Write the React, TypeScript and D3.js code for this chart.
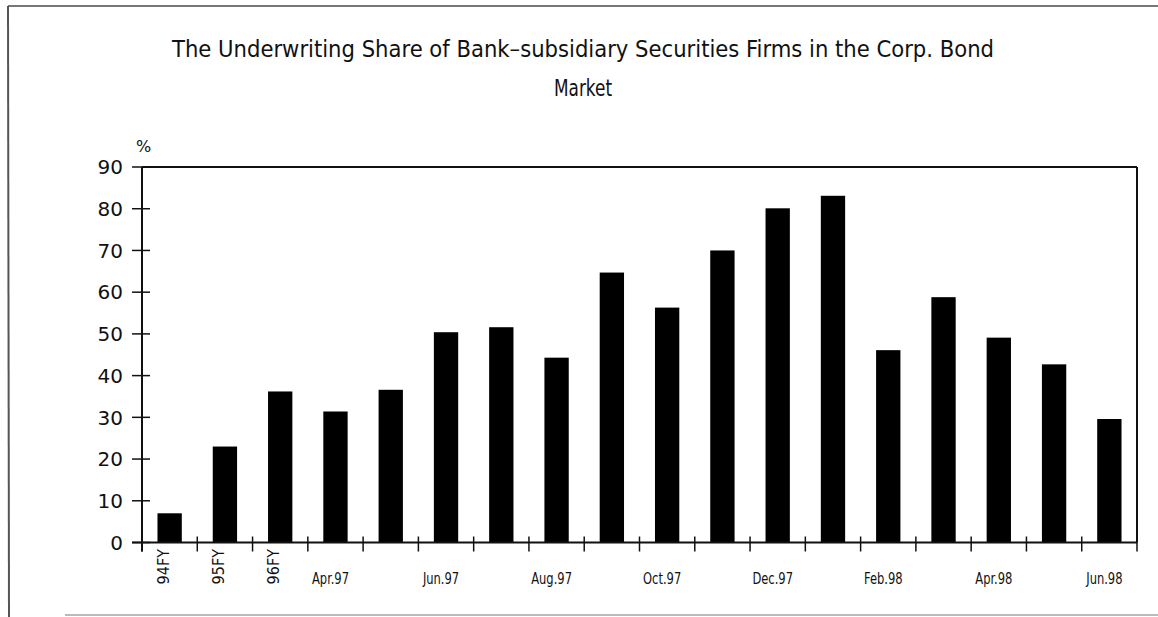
import React from "react";
import * as d3 from "d3";

const categories = [
  "94FY", "95FY", "96FY", "Apr.97", "May.97", "Jun.97", "Jul.97", "Aug.97", "Sep.97",
  "Oct.97", "Nov.97", "Dec.97", "Jan.98", "Feb.98", "Mar.98", "Apr.98", "May.98", "Jun.98",
];
const shares = [7.0, 23.0, 36.2, 31.4, 36.6, 50.4, 51.6, 44.3, 64.7, 56.3, 70.0, 80.1, 83.1, 46.1, 58.8, 49.1, 42.7, 29.6];
const rotatedLabels = ["94FY", "95FY", "96FY"];
const shownLabels = ["Apr.97", "Jun.97", "Aug.97", "Oct.97", "Dec.97", "Feb.98", "Apr.98", "Jun.98"];
const yTicks = [0, 10, 20, 30, 40, 50, 60, 70, 80, 90];
const titleLines = ["The Underwriting Share of Bank\u2013subsidiary Securities Firms in the Corp. Bond", "Market"];

const W = 1158;
const H = 617;
const plot = { left: 142, right: 1137, top: 167, bottom: 542.5 };

export default function App() {
  const x = d3.scaleBand<string>().domain(categories).range([plot.left, plot.right]).paddingInner(0.56).paddingOuter(0.28);
  const band = d3.scaleBand<string>().domain(categories).range([plot.left, plot.right]).padding(0);
  const y = d3.scaleLinear().domain([0, 90]).range([plot.bottom, plot.top]);
  const narrow = "'DejaVu Sans Condensed', 'DejaVu Sans', sans-serif";
  const boundaries = categories.map((c) => band(c) as number).concat([plot.right]);

  return (
    <svg width={W} height={H} style={{ position: "absolute", left: 0, top: 0, background: "#fff" }}>
      {/* outer frame */}
      <line x1={8} y1={6} x2={1158} y2={6} stroke="#777" strokeWidth={2} />
      <line x1={8} y1={6} x2={9} y2={617} stroke="#555" strokeWidth={2} />
      <line x1={65} y1={615} x2={1158} y2={615} stroke="#bbb" strokeWidth={2} />

      {/* title */}
      <text x={583} y={57} textAnchor="middle" fontFamily={narrow} fontSize={23} fill="#111"
        textLength={822} lengthAdjust="spacingAndGlyphs">{titleLines[0]}</text>
      <text x={583} y={96} textAnchor="middle" fontFamily={narrow} fontSize={23} fill="#111"
        textLength={58} lengthAdjust="spacingAndGlyphs">{titleLines[1]}</text>

      {/* unit */}
      <text x={136} y={152} fontFamily="'DejaVu Sans', sans-serif" fontSize={16} fill="#111">%</text>

      {/* bars */}
      {categories.map((c, i) => (
        <rect key={c} x={x(c)} y={y(shares[i])} width={x.bandwidth()} height={y(0) - y(shares[i])} fill="#000" />
      ))}

      {/* plot frame */}
      <line x1={plot.left} y1={plot.top} x2={plot.right} y2={plot.top} stroke="#111" strokeWidth={2} />
      <line x1={plot.right} y1={plot.top} x2={plot.right} y2={plot.bottom} stroke="#111" strokeWidth={2} />
      <line x1={plot.left} y1={plot.top} x2={plot.left} y2={plot.bottom + 9} stroke="#111" strokeWidth={2} />
      <line x1={plot.left - 10} y1={plot.bottom} x2={plot.right} y2={plot.bottom} stroke="#111" strokeWidth={2} />

      {/* y ticks */}
      {yTicks.map((t) => (
        <g key={t}>
          <line x1={plot.left - 10} x2={plot.left + 8} y1={y(t)} y2={y(t)} stroke="#111" strokeWidth={1.5} />
          <text x={123} y={y(t)} dy="0.36em" textAnchor="end" fontFamily="'DejaVu Sans', sans-serif" fontSize={20} fill="#111">{t}</text>
        </g>
      ))}

      {/* x ticks */}
      {boundaries.map((bx, i) => (
        <line key={i} x1={bx} x2={bx} y1={plot.bottom - 6} y2={plot.bottom + 9} stroke="#111" strokeWidth={1.5} />
      ))}

      {/* x labels */}
      {rotatedLabels.map((c) => {
        const cx = (band(c) as number) + band.bandwidth() / 2 - 1;
        return (
          <text key={c} transform={`translate(${cx},549) rotate(-90)`} textAnchor="end" fontFamily={narrow} fontSize={16} fill="#111">{c}</text>
        );
      })}
      {shownLabels.map((c) => {
        const cx = (band(c) as number) + band.bandwidth() / 2 - 5;
        return (
          <text key={c} transform={`translate(${cx},584) scale(0.8,1)`} textAnchor="middle" fontFamily={narrow} fontSize={16} fill="#111">{c}</text>
        );
      })}
    </svg>
  );
}
